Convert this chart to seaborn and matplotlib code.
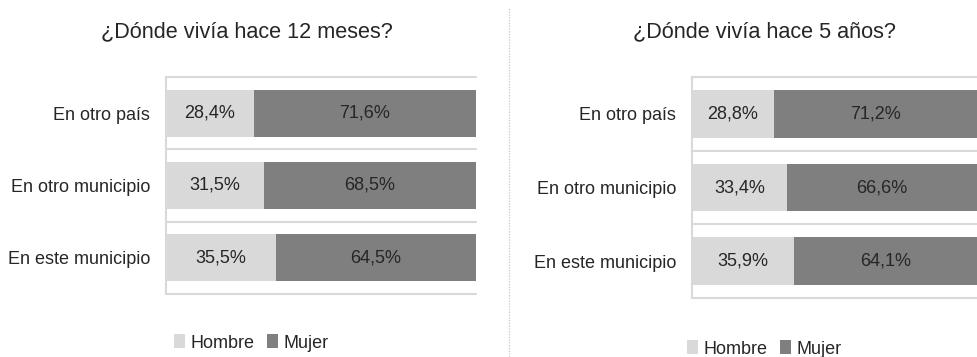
import matplotlib
matplotlib.use("Agg")
import matplotlib.pyplot as plt
from matplotlib.lines import Line2D
from matplotlib.patches import Patch
import seaborn as sns
import pandas as pd

sns.set_theme(style="white")
plt.rcParams["font.family"] = ["Liberation Sans", "DejaVu Sans"]

categories = ["En otro país", "En otro municipio", "En este municipio"]
series = ["Hombre", "Mujer"]
hombre_12m = [28.4, 31.5, 35.5]
mujer_12m = [71.6, 68.5, 64.5]
hombre_5a = [28.8, 33.4, 35.9]
mujer_5a = [71.2, 66.6, 64.1]
titles = ["¿Dónde vivía hace 12 meses?", "¿Dónde vivía hace 5 años?"]

C_HOMBRE = "#d9d9d9"
C_MUJER = "#7f7f7f"
TXT = "#262626"
GRID = "#d9d9d9"

W, H = 977, 357
fig = plt.figure(figsize=(W / 100, H / 100), dpi=100)


def ax_rect(x0, x1, ytop, ybot):
    return [x0 / W, 1 - ybot / H, (x1 - x0) / W, (ybot - ytop) / H]


def fmt(v):
    return f"{v:.1f}".replace(".", ",") + "%"


def panel(rect, hombre, mujer, title, title_xy, legend_xy):
    ax = fig.add_axes(rect)
    df = pd.DataFrame({"cat": categories, "hombre": hombre, "mujer": mujer})
    df["total"] = df["hombre"] + df["mujer"]
    sns.barplot(data=df, y="cat", x="total", color=C_MUJER, width=0.65,
                saturation=1, ax=ax, orient="h", linewidth=0)
    sns.barplot(data=df, y="cat", x="hombre", color=C_HOMBRE, width=0.65,
                saturation=1, ax=ax, orient="h", linewidth=0)
    ax.set_xlim(0, 100)
    ax.set_ylim(2.5, -0.5)
    ax.set_xlabel("")
    ax.set_ylabel("")
    ax.set_xticks([])
    ax.tick_params(axis="y", length=0, pad=11.5, labelsize=13, labelcolor=TXT)
    for s in ["top", "right", "bottom"]:
        ax.spines[s].set_visible(False)
    ax.spines["left"].set_color(GRID)
    ax.spines["left"].set_linewidth(1.5)
    for yb in [-0.5, 0.5, 1.5, 2.5]:
        ax.axhline(yb, color=GRID, lw=1.5, zorder=0, clip_on=False)
    for i, (h, m) in enumerate(zip(hombre, mujer)):
        ax.text(h / 2, i, fmt(h), ha="center", va="center", fontsize=13, color=TXT)
        ax.text(h + m / 2, i, fmt(m), ha="center", va="center", fontsize=13, color=TXT)
    fig.text(title_xy[0] / W, 1 - title_xy[1] / H, title, ha="center", va="center",
             fontsize=15.6, color=TXT)
    handles = [Patch(facecolor=C_HOMBRE, edgecolor="none", label=series[0]),
               Patch(facecolor=C_MUJER, edgecolor="none", label=series[1])]
    fig.legend(handles=handles, loc="center",
               bbox_to_anchor=(legend_xy[0] / W, 1 - legend_xy[1] / H),
               ncol=2, frameon=False, fontsize=13, handlelength=0.6, handleheight=0.8,
               handletextpad=0.3, columnspacing=0.7, labelcolor=TXT)
    return ax


panel(ax_rect(166, 476, 77, 294), hombre_12m, mujer_12m, titles[0], (247, 32), (251, 343))
panel(ax_rect(692, 977, 77, 298), hombre_5a, mujer_5a, titles[1], (764, 32), (764, 349))

# dotted divider between the two panels
fig.add_artist(Line2D([509 / W, 509 / W], [0, 1 - 8 / H], transform=fig.transFigure,
                      color="#cfcfcf", lw=1, ls=(0, (1, 1))))

fig.savefig("out.png", dpi=100, facecolor="white")
